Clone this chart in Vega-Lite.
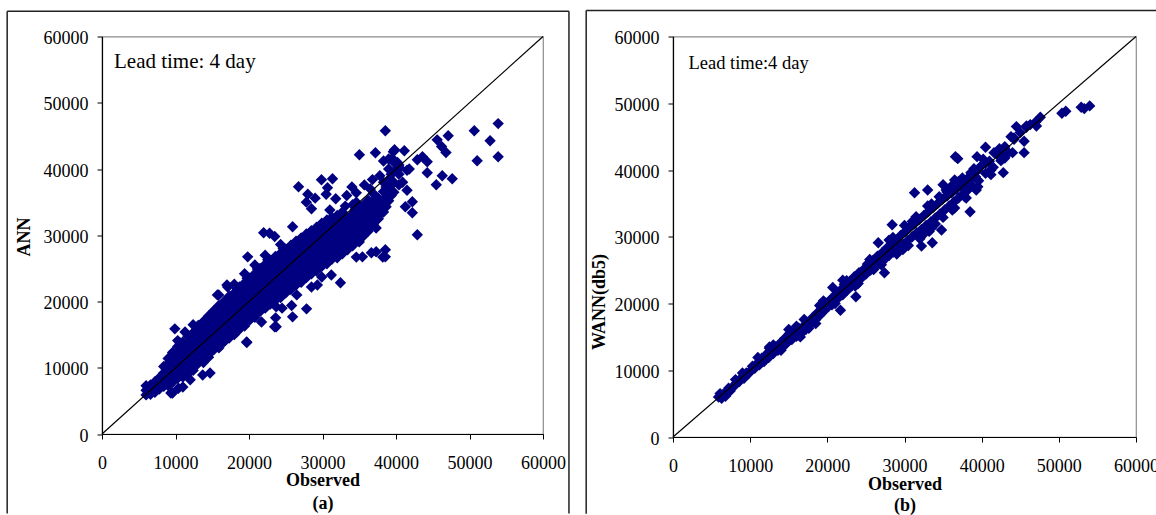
{
  "$schema": "https://vega.github.io/schema/vega-lite/v6.json",
  "autosize": "none",
  "padding": {"left": 102, "top": 36.5, "right": 1054, "bottom": 478.5},
  "background": "white",
  "bounds": "flush",
  "spacing": 130,
  "datasets": {
    "one": [{}],
    "ann": [
{"o":6000,"p":5900},{"o":6000,"p":6600},{"o":6000,"p":7300},
{"o":6600,"p":6000},{"o":6600,"p":6700},{"o":6600,"p":7400},
{"o":7200,"p":6300},{"o":7200,"p":7100},{"o":7200,"p":7900},
{"o":7800,"p":6800},{"o":7800,"p":7600},{"o":7800,"p":8500},
{"o":8400,"p":7200},{"o":8400,"p":8200},{"o":8400,"p":9200},{"o":8400,"p":10200},
{"o":9000,"p":7300},{"o":9000,"p":8400},{"o":9000,"p":9500},{"o":9000,"p":10600},{"o":9000,"p":11400},
{"o":9600,"p":7800},{"o":9600,"p":9000},{"o":9600,"p":10200},{"o":9600,"p":11400},{"o":9600,"p":12300},
{"o":10300,"p":8400},{"o":10300,"p":9600},{"o":10300,"p":10800},{"o":10300,"p":12000},{"o":10300,"p":13200},{"o":10300,"p":14100},
{"o":11000,"p":8600},{"o":11000,"p":9900},{"o":11000,"p":11300},{"o":11000,"p":12600},{"o":11000,"p":13900},
{"o":11700,"p":9100},{"o":11700,"p":10600},{"o":11700,"p":12000},{"o":11700,"p":13400},{"o":11700,"p":14800},
{"o":12400,"p":9600},{"o":12400,"p":11000},{"o":12400,"p":12500},{"o":12400,"p":14000},{"o":12400,"p":15300},
{"o":13100,"p":10800},{"o":13100,"p":12200},{"o":13100,"p":13600},{"o":13100,"p":15000},{"o":13100,"p":16400},
{"o":13800,"p":10800},{"o":13800,"p":12400},{"o":13800,"p":13900},{"o":13800,"p":15400},{"o":13800,"p":17000},
{"o":14500,"p":11600},{"o":14500,"p":13200},{"o":14500,"p":14800},{"o":14500,"p":16300},{"o":14500,"p":17800},
{"o":15200,"p":12700},{"o":15200,"p":14200},{"o":15200,"p":15700},{"o":15200,"p":17200},{"o":15200,"p":18600},
{"o":15900,"p":13000},{"o":15900,"p":14600},{"o":15900,"p":16200},{"o":15900,"p":17800},{"o":15900,"p":19400},
{"o":16600,"p":13900},{"o":16600,"p":15500},{"o":16600,"p":17000},{"o":16600,"p":18600},{"o":16600,"p":20000},
{"o":17300,"p":14500},{"o":17300,"p":16100},{"o":17300,"p":17700},{"o":17300,"p":19300},{"o":17300,"p":20800},
{"o":18000,"p":15000},{"o":18000,"p":16600},{"o":18000,"p":18200},{"o":18000,"p":19800},{"o":18000,"p":21300},{"o":18000,"p":22600},
{"o":18700,"p":15800},{"o":18700,"p":17400},{"o":18700,"p":19000},{"o":18700,"p":20600},{"o":18700,"p":22200},
{"o":19400,"p":16300},{"o":19400,"p":18000},{"o":19400,"p":19600},{"o":19400,"p":21200},{"o":19400,"p":22800},{"o":19400,"p":24200},
{"o":20100,"p":17200},{"o":20100,"p":18800},{"o":20100,"p":20400},{"o":20100,"p":22000},{"o":20100,"p":23500},
{"o":20800,"p":17600},{"o":20800,"p":19300},{"o":20800,"p":21000},{"o":20800,"p":22600},{"o":20800,"p":24200},{"o":20800,"p":25500},
{"o":21500,"p":18500},{"o":21500,"p":20100},{"o":21500,"p":21800},{"o":21500,"p":23400},{"o":21500,"p":25000},
{"o":22200,"p":19000},{"o":22200,"p":20700},{"o":22200,"p":22300},{"o":22200,"p":24000},{"o":22200,"p":25600},{"o":22200,"p":27000},
{"o":22900,"p":19600},{"o":22900,"p":21300},{"o":22900,"p":23000},{"o":22900,"p":24600},{"o":22900,"p":26200},
{"o":23600,"p":20200},{"o":23600,"p":21900},{"o":23600,"p":23500},{"o":23600,"p":25200},{"o":23600,"p":26800},
{"o":24300,"p":20600},{"o":24300,"p":22300},{"o":24300,"p":24000},{"o":24300,"p":25700},{"o":24300,"p":27300},{"o":24300,"p":28600},
{"o":25000,"p":21300},{"o":25000,"p":23000},{"o":25000,"p":24600},{"o":25000,"p":26300},{"o":25000,"p":27900},
{"o":25700,"p":21800},{"o":25700,"p":23500},{"o":25700,"p":25200},{"o":25700,"p":26900},{"o":25700,"p":28500},
{"o":26400,"p":22500},{"o":26400,"p":24200},{"o":26400,"p":25900},{"o":26400,"p":27500},{"o":26400,"p":29100},
{"o":27100,"p":22900},{"o":27100,"p":24600},{"o":27100,"p":26300},{"o":27100,"p":28000},{"o":27100,"p":29600},
{"o":27800,"p":23600},{"o":27800,"p":25200},{"o":27800,"p":26900},{"o":27800,"p":28600},{"o":27800,"p":30200},
{"o":28500,"p":24200},{"o":28500,"p":25800},{"o":28500,"p":27500},{"o":28500,"p":29100},{"o":28500,"p":30700},
{"o":29200,"p":24600},{"o":29200,"p":26300},{"o":29200,"p":28000},{"o":29200,"p":29600},{"o":29200,"p":31200},
{"o":29900,"p":25300},{"o":29900,"p":27000},{"o":29900,"p":28600},{"o":29900,"p":30200},{"o":29900,"p":31800},
{"o":30600,"p":25700},{"o":30600,"p":27400},{"o":30600,"p":29100},{"o":30600,"p":30700},{"o":30600,"p":32300},
{"o":31300,"p":26400},{"o":31300,"p":28000},{"o":31300,"p":29600},{"o":31300,"p":31200},{"o":31300,"p":32700},
{"o":32000,"p":26600},{"o":32000,"p":28300},{"o":32000,"p":29900},{"o":32000,"p":31500},{"o":32000,"p":33000},
{"o":32700,"p":27200},{"o":32700,"p":28900},{"o":32700,"p":30500},{"o":32700,"p":32000},{"o":32700,"p":33500},
{"o":33400,"p":27800},{"o":33400,"p":29400},{"o":33400,"p":31000},{"o":33400,"p":32500},
{"o":34100,"p":28400},{"o":34100,"p":30000},{"o":34100,"p":31600},{"o":34100,"p":33200},{"o":34100,"p":34600},
{"o":34800,"p":29200},{"o":34800,"p":30800},{"o":34800,"p":32300},{"o":34800,"p":33800},
{"o":35500,"p":29800},{"o":35500,"p":31400},{"o":35500,"p":33000},{"o":35500,"p":34500},
{"o":36200,"p":30600},{"o":36200,"p":32200},{"o":36200,"p":33800},{"o":36200,"p":35300},
{"o":36900,"p":31600},{"o":36900,"p":33200},{"o":36900,"p":34800},{"o":36900,"p":36300},
{"o":37600,"p":32500},{"o":37600,"p":34000},{"o":37600,"p":35600},
{"o":38300,"p":33500},{"o":38300,"p":35000},{"o":38300,"p":36600},{"o":38300,"p":38000},
{"o":39000,"p":35200},{"o":39000,"p":36800},{"o":39000,"p":38400},{"o":39000,"p":40000},
{"o":39700,"p":36500},{"o":39700,"p":38000},{"o":39700,"p":39600},{"o":39700,"p":41000},
{"o":40400,"p":37600},{"o":40400,"p":39200},{"o":40400,"p":40600},
{"o":8750,"p":7700},{"o":8750,"p":8700},{"o":8750,"p":9700},
{"o":9350,"p":7900},{"o":9350,"p":9000},{"o":9350,"p":10100},{"o":9350,"p":11000},
{"o":9950,"p":8400},{"o":9950,"p":9600},{"o":9950,"p":10800},{"o":9950,"p":11900},
{"o":10650,"p":9000},{"o":10650,"p":10200},{"o":10650,"p":11400},{"o":10650,"p":12600},{"o":10650,"p":13700},
{"o":11350,"p":9300},{"o":11350,"p":10600},{"o":11350,"p":12000},{"o":11350,"p":13300},
{"o":12050,"p":9900},{"o":12050,"p":11300},{"o":12050,"p":12700},{"o":12050,"p":14100},
{"o":12750,"p":10300},{"o":12750,"p":11800},{"o":12750,"p":13300},{"o":12750,"p":14700},
{"o":13450,"p":11500},{"o":13450,"p":12900},{"o":13450,"p":14300},{"o":13450,"p":15700},
{"o":14150,"p":11600},{"o":14150,"p":13200},{"o":14150,"p":14700},{"o":14150,"p":16200},
{"o":14850,"p":12400},{"o":14850,"p":14000},{"o":14850,"p":15600},{"o":14850,"p":17100},
{"o":15550,"p":13500},{"o":15550,"p":15000},{"o":15550,"p":16500},{"o":15550,"p":17900},
{"o":16250,"p":13800},{"o":16250,"p":15400},{"o":16250,"p":17000},{"o":16250,"p":18600},
{"o":16950,"p":14700},{"o":16950,"p":16300},{"o":16950,"p":17800},{"o":16950,"p":19300},
{"o":17650,"p":15300},{"o":17650,"p":16900},{"o":17650,"p":18500},{"o":17650,"p":20100},
{"o":18350,"p":15800},{"o":18350,"p":17400},{"o":18350,"p":19000},{"o":18350,"p":20600},{"o":18350,"p":22000},
{"o":19050,"p":16600},{"o":19050,"p":18200},{"o":19050,"p":19800},{"o":19050,"p":21400},
{"o":19750,"p":17200},{"o":19750,"p":18800},{"o":19750,"p":20400},{"o":19750,"p":22000},{"o":19750,"p":23500},
{"o":20450,"p":18000},{"o":20450,"p":19600},{"o":20450,"p":21200},{"o":20450,"p":22800},
{"o":21150,"p":18500},{"o":21150,"p":20200},{"o":21150,"p":21800},{"o":21150,"p":23400},{"o":21150,"p":24900},
{"o":21850,"p":19300},{"o":21850,"p":21000},{"o":21850,"p":22600},{"o":21850,"p":24200},
{"o":22550,"p":19900},{"o":22550,"p":21500},{"o":22550,"p":23200},{"o":22550,"p":24800},{"o":22550,"p":26300},
{"o":23250,"p":20500},{"o":23250,"p":22200},{"o":23250,"p":23800},{"o":23250,"p":25400},
{"o":23950,"p":21100},{"o":23950,"p":22700},{"o":23950,"p":24400},{"o":23950,"p":26000},
{"o":24650,"p":21500},{"o":24650,"p":23200},{"o":24650,"p":24900},{"o":24650,"p":26500},{"o":24650,"p":28000},
{"o":25350,"p":22200},{"o":25350,"p":23800},{"o":25350,"p":25500},{"o":25350,"p":27100},
{"o":26050,"p":22700},{"o":26050,"p":24400},{"o":26050,"p":26100},{"o":26050,"p":27700},
{"o":26750,"p":23400},{"o":26750,"p":25100},{"o":26750,"p":26700},{"o":26750,"p":28300},
{"o":27450,"p":23800},{"o":27450,"p":25500},{"o":27450,"p":27200},{"o":27450,"p":28800},
{"o":28150,"p":24400},{"o":28150,"p":26100},{"o":28150,"p":27800},{"o":28150,"p":29400},
{"o":28850,"p":25000},{"o":28850,"p":26700},{"o":28850,"p":28300},{"o":28850,"p":29900},
{"o":29550,"p":25500},{"o":29550,"p":27200},{"o":29550,"p":28800},{"o":29550,"p":30400},
{"o":30250,"p":26200},{"o":30250,"p":27800},{"o":30250,"p":29400},{"o":30250,"p":31000},
{"o":30950,"p":26600},{"o":30950,"p":28300},{"o":30950,"p":29900},{"o":30950,"p":31500},
{"o":31650,"p":27200},{"o":31650,"p":28800},{"o":31650,"p":30400},{"o":31650,"p":32000},
{"o":32350,"p":27500},{"o":32350,"p":29100},{"o":32350,"p":30700},{"o":32350,"p":32300},
{"o":33050,"p":28100},{"o":33050,"p":29700},{"o":33050,"p":31300},{"o":33050,"p":32800},
{"o":33750,"p":28600},{"o":33750,"p":30200},{"o":33750,"p":31800},
{"o":34450,"p":29200},{"o":34450,"p":30800},{"o":34450,"p":32400},{"o":34450,"p":33900},
{"o":35150,"p":30000},{"o":35150,"p":31600},{"o":35150,"p":33100},
{"o":35850,"p":30600},{"o":35850,"p":32200},{"o":35850,"p":33800},
{"o":36550,"p":31400},{"o":36550,"p":33000},{"o":36550,"p":34600},
{"o":37250,"p":32400},{"o":37250,"p":34000},{"o":37250,"p":35600},
{"o":37950,"p":33300},{"o":37950,"p":34800},
{"o":38650,"p":34300},{"o":38650,"p":35800},{"o":38650,"p":37300},
{"o":39350,"p":36000},{"o":39350,"p":37600},{"o":39350,"p":39200},
{"o":53900,"p":46850},{"o":53900,"p":41850},{"o":50650,"p":45780},{"o":52800,"p":44270},{"o":51040,"p":41250},
{"o":38550,"p":45780},{"o":47100,"p":45030},{"o":45600,"p":44400},{"o":46200,"p":43400},{"o":46800,"p":42500},
{"o":41130,"p":42760},{"o":39640,"p":42610},{"o":35020,"p":42160},{"o":37200,"p":42460},{"o":42900,"p":41400},
{"o":43600,"p":41850},{"o":44250,"p":41100},{"o":44250,"p":39440},{"o":46290,"p":38980},{"o":47650,"p":38530},
{"o":45480,"p":37620},{"o":42900,"p":30070},{"o":42220,"p":35050},{"o":41270,"p":34300},{"o":42220,"p":33390},
{"o":38550,"p":26740},{"o":38550,"p":27800},{"o":36650,"p":27350},{"o":35430,"p":26740},{"o":29860,"p":38380},
{"o":31360,"p":38530},{"o":30680,"p":37170},{"o":26740,"p":37320},{"o":21990,"p":30370},{"o":19820,"p":26740},
{"o":25930,"p":31280},{"o":32440,"p":22820},{"o":27830,"p":18890},{"o":25930,"p":17680},{"o":23490,"p":16170},
{"o":23620,"p":17530},{"o":19680,"p":13900},{"o":9910,"p":15870},{"o":9370,"p":6200},{"o":15880,"p":21000},
{"o":38300,"p":41200},{"o":39500,"p":41600},{"o":40200,"p":41000},{"o":40500,"p":40200},{"o":41500,"p":39800},
{"o":33300,"p":36000},{"o":34000,"p":37300},{"o":34600,"p":35000},
{"o":28000,"p":36200},{"o":28500,"p":34000},{"o":31000,"p":33800},{"o":31800,"p":35500},{"o":30500,"p":36200},{"o":29000,"p":35600},{"o":27800,"p":35000},
{"o":23500,"p":29800},{"o":22800,"p":30300},
{"o":28500,"p":22200},{"o":29300,"p":22500},{"o":29900,"p":23700},{"o":31200,"p":24000},{"o":34600,"p":26700},{"o":37300,"p":27500},{"o":38200,"p":26700},
{"o":35000,"p":29000},{"o":37300,"p":31100},
{"o":25800,"p":19400},{"o":26500,"p":21000},{"o":24500,"p":19000},
{"o":20500,"p":17700},{"o":21700,"p":16900},
{"o":9600,"p":6200},{"o":11000,"p":7100},{"o":13700,"p":8900},{"o":14700,"p":9200},
{"o":12400,"p":16500},{"o":11300,"p":15400},{"o":13000,"p":15700},
{"o":15700,"p":21000},{"o":17100,"p":22200},{"o":17000,"p":22500},
{"o":19700,"p":13800},{"o":23700,"p":16200},{"o":23700,"p":19200},
{"o":10400,"p":6900},{"o":12000,"p":8200},
{"o":33100,"p":34400},{"o":34600,"p":36400},{"o":35700,"p":37600},{"o":36800,"p":38400},{"o":39000,"p":41500},
{"o":39800,"p":42900},{"o":40900,"p":38000},{"o":41500,"p":36800},{"o":41800,"p":40000},{"o":37800,"p":39000},{"o":36500,"p":37000}
    ],
    "wann": [
{"o":5900,"p":6000},{"o":6300,"p":5800},{"o":6500,"p":6400},{"o":6800,"p":6100},{"o":7100,"p":6800},{"o":7400,"p":6900},{"o":7700,"p":7500},{"o":8000,"p":7700},{"o":8300,"p":8200},{"o":8600,"p":8300},{"o":8900,"p":8900},{"o":9200,"p":8800},{"o":9500,"p":9600},{"o":9800,"p":9500},{"o":6100,"p":6500},{"o":7200,"p":7300},{"o":8100,"p":8600},{"o":9000,"p":9600},
{"o":10000,"p":9900},{"o":10300,"p":10600},{"o":10600,"p":10300},{"o":10900,"p":11000},{"o":11200,"p":10800},{"o":11500,"p":11800},{"o":11800,"p":11300},{"o":12100,"p":12400},{"o":12400,"p":11900},{"o":12700,"p":13000},{"o":13000,"p":12500},{"o":13300,"p":13500},{"o":13600,"p":13000},{"o":13900,"p":14100},{"o":14200,"p":13600},{"o":14500,"p":14800},{"o":14800,"p":14200},{"o":15100,"p":15500},{"o":15400,"p":14600},{"o":15700,"p":15800},{"o":16000,"p":15100},{"o":16300,"p":16300},{"o":16600,"p":15500},{"o":16900,"p":16600},{"o":17200,"p":16100},{"o":17500,"p":17200},{"o":17800,"p":16800},{"o":18100,"p":17900},{"o":18400,"p":17500},{"o":18700,"p":18600},{"o":19000,"p":18200},{"o":19300,"p":19300},{"o":19600,"p":18900},{"o":19900,"p":20000},
{"o":20200,"p":19600},{"o":20500,"p":20700},{"o":20800,"p":20200},{"o":21100,"p":21400},{"o":21400,"p":20800},{"o":21700,"p":22000},{"o":22000,"p":21300},{"o":22300,"p":22600},{"o":22600,"p":22000},{"o":22900,"p":23300},{"o":23200,"p":22700},{"o":23500,"p":24000},{"o":23800,"p":23200},{"o":24100,"p":24600},{"o":24400,"p":23800},{"o":24700,"p":25100},{"o":25000,"p":24400},{"o":25300,"p":25800},{"o":25600,"p":25000},{"o":25900,"p":26400},{"o":26200,"p":25500},{"o":26500,"p":27100},{"o":26800,"p":26000},{"o":27100,"p":27600},{"o":27400,"p":26600},{"o":27700,"p":28300},{"o":28000,"p":27200},{"o":28300,"p":28900},{"o":28600,"p":27700},{"o":28900,"p":29500},{"o":29200,"p":28300},{"o":29500,"p":30200},{"o":29800,"p":28900},
{"o":30100,"p":30800},{"o":30400,"p":29400},{"o":30700,"p":31500},{"o":31000,"p":30000},{"o":31300,"p":32000},{"o":31600,"p":30600},{"o":31900,"p":32600},{"o":32200,"p":31100},{"o":32500,"p":33200},{"o":32800,"p":31700},{"o":33100,"p":33800},{"o":33400,"p":32200},{"o":33700,"p":34400},{"o":34000,"p":32800},{"o":34300,"p":35000},{"o":34600,"p":33400},{"o":34900,"p":35600},{"o":35200,"p":34000},{"o":35500,"p":36100},{"o":35800,"p":34600},{"o":36100,"p":36600},{"o":36400,"p":35200},{"o":36700,"p":37100},{"o":37000,"p":35800},{"o":37300,"p":37600},{"o":37600,"p":36400},{"o":37900,"p":38100},{"o":38200,"p":37000},{"o":38500,"p":38500},{"o":38800,"p":37600},{"o":39200,"p":39000},{"o":39600,"p":38400},
{"o":11000,"p":11900},{"o":12500,"p":13300},{"o":14000,"p":13000},{"o":15000,"p":16100},{"o":16500,"p":15000},{"o":17000,"p":17600},{"o":18500,"p":17000},{"o":19500,"p":20400},{"o":21000,"p":20000},{"o":22500,"p":23400},{"o":24000,"p":23000},{"o":25500,"p":26600},{"o":27000,"p":25800},{"o":28000,"p":29500},{"o":29000,"p":27400},{"o":30000,"p":31700},{"o":30500,"p":28700},{"o":31500,"p":33000},{"o":32000,"p":29700},{"o":33000,"p":34600},{"o":33500,"p":31300},{"o":34500,"p":36000},{"o":35000,"p":32900},{"o":36000,"p":37500},{"o":36500,"p":34300},{"o":37500,"p":38800},{"o":38000,"p":35800},{"o":39000,"p":40200},{"o":39500,"p":37500},{"o":40000,"p":40700},{"o":40500,"p":39500},{"o":41000,"p":41300},{"o":41500,"p":40400},{"o":42000,"p":42300},{"o":42500,"p":41400},{"o":43000,"p":43500},{"o":43500,"p":42600},{"o":44200,"p":44800},{"o":45000,"p":45600},{"o":45800,"p":46400},{"o":46300,"p":46800},{"o":47000,"p":47200},
{"o":13000,"p":13800},{"o":14600,"p":13900},{"o":16000,"p":16600},{"o":17600,"p":16300},{"o":19000,"p":19700},{"o":20600,"p":19800},{"o":22200,"p":22900},{"o":23600,"p":22600},{"o":25200,"p":25900},{"o":26000,"p":25100},{"o":28500,"p":29900},{"o":29800,"p":28100},{"o":31000,"p":32300},{"o":32500,"p":30400},{"o":33500,"p":34900},{"o":34000,"p":31900},{"o":35500,"p":36700},{"o":36200,"p":34000},{"o":37000,"p":38300},{"o":37800,"p":36000},{"o":38600,"p":39600},{"o":39300,"p":37000},{"o":40200,"p":41600},{"o":41200,"p":40000},{"o":42300,"p":43200},{"o":43000,"p":41800},
{"o":36600,"p":42000},{"o":36900,"p":41700},{"o":38500,"p":33750},{"o":33200,"p":30800},{"o":34800,"p":31000},{"o":33600,"p":29100},{"o":32200,"p":28600},{"o":27400,"p":24600},{"o":23700,"p":21000},{"o":21700,"p":19000},{"o":31300,"p":36600},{"o":33000,"p":37000},{"o":35000,"p":37800},{"o":28400,"p":31800},{"o":26600,"p":29100},{"o":22000,"p":23500},{"o":20700,"p":22400},{"o":12500,"p":13500},
{"o":54000,"p":49600},{"o":53300,"p":49200},{"o":52900,"p":49400},{"o":50400,"p":48500},{"o":50900,"p":48800},{"o":47600,"p":47900},{"o":45500,"p":44300},{"o":45500,"p":42600},{"o":44000,"p":42600},{"o":42800,"p":39600},{"o":41200,"p":39300},{"o":44500,"p":46500},{"o":45800,"p":46600},{"o":47100,"p":46600},{"o":43800,"p":45000},{"o":44200,"p":44600},{"o":39400,"p":42000},{"o":40500,"p":43400},{"o":41600,"p":42600},{"o":42700,"p":42200},{"o":38400,"p":39000},{"o":39500,"p":40000},{"o":40500,"p":41000},{"o":41000,"p":39800},{"o":35400,"p":37000},{"o":36500,"p":38500},{"o":37500,"p":37800}
    ]
  },
  "hconcat": [
    {
      "width": 441,
      "height": 397.5,
      "layer": [
        {"data": {"name": "one"}, "mark": {"type": "rule", "color": "#222222", "strokeWidth": 1.5},
         "encoding": {"x": {"datum": -12900, "type": "quantitative"}, "y": {"datum": 63800, "type": "quantitative"}, "y2": {"datum": -12000}}},
        {"data": {"name": "one"}, "mark": {"type": "rule", "color": "#222222", "strokeWidth": 1.5},
         "encoding": {"x": {"datum": 63530, "type": "quantitative"}, "y": {"datum": 63800, "type": "quantitative"}, "y2": {"datum": -12000}}},
        {"data": {"name": "one"}, "mark": {"type": "rule", "color": "#222222", "strokeWidth": 1.5},
         "encoding": {"x": {"datum": -12900, "type": "quantitative"}, "x2": {"datum": 63530}, "y": {"datum": 63800, "type": "quantitative"}}},
        {"data": {"name": "ann"},
         "mark": {"type": "point", "shape": "diamond", "filled": true, "size": 130, "color": "#000080", "opacity": 1},
         "encoding": {
           "x": {"field": "o", "type": "quantitative",
                 "scale": {"domain": [0, 60000], "nice": false, "zero": false},
                 "axis": {"values": [0, 10000, 20000, 30000, 40000, 50000, 60000], "format": "d",
                          "title": ["Observed", "(a)"], "titleBaseline": "alphabetic", "titleY": 51, "titleLineHeight": 23,
                          "labelPadding": 15, "labelBaseline": "top"}},
           "y": {"field": "p", "type": "quantitative",
                 "scale": {"domain": [0, 60000], "nice": false, "zero": false},
                 "axis": {"values": [0, 10000, 20000, 30000, 40000, 50000, 60000], "format": "d",
                          "title": "ANN", "titleX": -78, "titleY": 200, "titleAngle": 270, "titleBaseline": "middle", "titleAlign": "center",
                          "labelPadding": 9, "labelOffset": 2}}
         }},
        {"data": {"name": "one"}, "mark": {"type": "rule", "color": "black", "strokeWidth": 1.2},
         "encoding": {"x": {"datum": 0, "type": "quantitative"}, "y": {"datum": 0, "type": "quantitative"}, "x2": {"datum": 60000}, "y2": {"datum": 60000}}},
        {"data": {"name": "one"}, "mark": {"type": "text", "text": "Lead time: 4 day", "align": "left", "baseline": "alphabetic", "fontSize": 21, "font": "Liberation Serif", "color": "black"},
         "encoding": {"x": {"datum": 1630, "type": "quantitative"}, "y": {"datum": 55300, "type": "quantitative"}}}
      ]
    },
    {
      "width": 463,
      "height": 400.5,
      "layer": [
        {"data": {"name": "one"}, "mark": {"type": "rule", "color": "#222222", "strokeWidth": 1.5},
         "encoding": {"x": {"datum": -11250, "type": "quantitative"}, "y": {"datum": 63900, "type": "quantitative"}, "y2": {"datum": -11500}}},
        {"data": {"name": "one"}, "mark": {"type": "rule", "color": "#222222", "strokeWidth": 1.5},
         "encoding": {"x": {"datum": -11250, "type": "quantitative"}, "x2": {"datum": 65000}, "y": {"datum": 63900, "type": "quantitative"}}},
        {"data": {"name": "wann"},
         "mark": {"type": "point", "shape": "diamond", "filled": true, "size": 130, "color": "#000080", "opacity": 1},
         "encoding": {
           "x": {"field": "o", "type": "quantitative",
                 "scale": {"domain": [0, 60000], "nice": false, "zero": false},
                 "axis": {"values": [0, 10000, 20000, 30000, 40000, 50000, 60000], "format": "d",
                          "title": ["Observed", "(b)"], "titleBaseline": "alphabetic", "titleY": 52, "titleLineHeight": 21.5,
                          "labelPadding": 15, "labelBaseline": "top"}},
           "y": {"field": "p", "type": "quantitative",
                 "scale": {"domain": [0, 60000], "nice": false, "zero": false},
                 "axis": {"values": [0, 10000, 20000, 30000, 40000, 50000, 60000], "format": "d",
                          "title": "WANN(db5)", "titleX": -74, "titleY": 265, "titleAngle": 270, "titleBaseline": "middle", "titleAlign": "center",
                          "labelPadding": 9, "labelOffset": 2}}
         }},
        {"data": {"name": "one"}, "mark": {"type": "rule", "color": "black", "strokeWidth": 1.2},
         "encoding": {"x": {"datum": 0, "type": "quantitative"}, "y": {"datum": 0, "type": "quantitative"}, "x2": {"datum": 60000}, "y2": {"datum": 60000}}},
        {"data": {"name": "one"}, "mark": {"type": "text", "text": "Lead time:4 day", "align": "left", "baseline": "alphabetic", "fontSize": 18.5, "font": "Liberation Serif", "color": "black"},
         "encoding": {"x": {"datum": 2000, "type": "quantitative"}, "y": {"datum": 55150, "type": "quantitative"}}}
      ]
    }
  ],
  "config": {
    "font": "Liberation Serif",
    "view": {"stroke": "#8c8c8c", "strokeWidth": 1.2},
    "axis": {"grid": false, "labelFlush": false, "labelOverlap": false, "domainColor": "black", "domainWidth": 1.2, "tickColor": "black", "tickWidth": 1, "tickSize": 5,
             "labelColor": "black", "labelFont": "Liberation Serif", "labelFontSize": 18,
             "titleColor": "black", "titleFont": "Liberation Serif", "titleFontSize": 18, "titleFontWeight": "bold"}
  }
}
